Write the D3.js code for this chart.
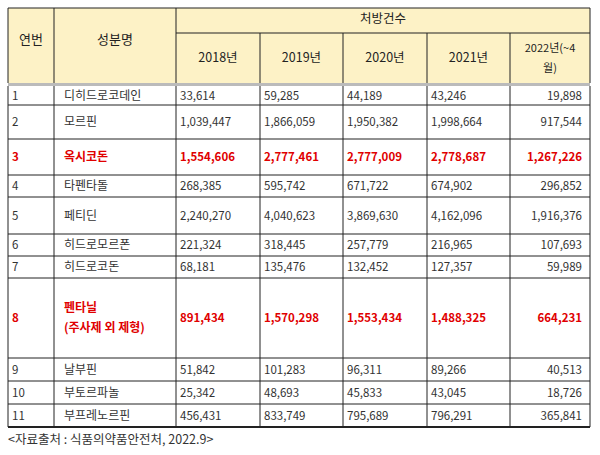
<!DOCTYPE html><html><head><meta charset="utf-8">
<script src="https://cdn.jsdelivr.net/npm/d3@7"></script>
<style>body{margin:0;background:#fff}</style></head><body>
<svg id="c" width="600" height="455"></svg>
<script>
const years=["2018년","2019년","2020년","2021년","2022년(~4|월)"];
const ids=["1","2","3","4","5","6","7","8","9","10","11"];
const names=["디히드로코데인","모르핀","옥시코돈","타펜타돌","페티딘","히드로모르폰","히드로코돈","펜타닐|(주사제 외 제형)","날부핀","부토르파놀","부프레노르핀"];
const v2018=[33614,1039447,1554606,268385,2240270,221324,68181,891434,51842,25342,456431];
const v2019=[59285,1866059,2777461,595742,4040623,318445,135476,1570298,101283,48693,833749];
const v2020=[44189,1950382,2777009,671722,3869630,257779,132452,1553434,96311,45833,795689];
const v2021=[43246,1998664,2778687,674902,4162096,216965,127357,1488325,89266,43045,796291];
const v2022=[19898,917544,1267226,296852,1916376,107693,59989,664231,40513,18726,365841];
const highlight=["3","8"];
const rowH=[19,34,36,22,37,22,22,80,23,23,23];
const colX=[8,54,176,260,343,427,510,590];
const svg=d3.select("#c"),F="'Noto Sans CJK KR',sans-serif",fmt=d3.format(",");
const y0=8,h1=33,h2=83,hb=86;
svg.append("rect").attr("x",colX[0]).attr("y",y0).attr("width",colX[7]-colX[0]).attr("height",h2-y0).attr("fill","#fdf2c6");
svg.append("rect").attr("x",colX[0]).attr("y",h2).attr("width",colX[7]-colX[0]).attr("height",hb-h2).attr("fill","#bbb");
const ln=(x1,ya,x2,yb,w=1)=>svg.append("line").attr("x1",x1).attr("y1",ya).attr("x2",x2).attr("y2",yb).attr("stroke","#222").attr("stroke-width",w);
const txt=(x,y,s,anchor,col,size=11.5,bold=false)=>{const lines=s.split("|");lines.forEach((l,i)=>svg.append("text").attr("x",x).attr("y",y+(i-(lines.length-1)/2)*20).attr("dy","0.35em").attr("text-anchor",anchor).attr("fill",col).attr("font-family",F).attr("font-size",size).attr("font-weight",bold?"bold":"normal").text(l));};
ln(colX[0],y0,colX[7],y0);ln(colX[2],h1,colX[7],h1);
colX.forEach((x,i)=>ln(x,(i>=3&&i<=6)?h1:y0,x,h2));
txt((colX[0]+colX[1])/2,(y0+h2)/2-6,"연번","middle","#222",13);
txt((colX[1]+colX[2])/2,(y0+h2)/2-6,"성분명","middle","#222",13);
txt((colX[2]+colX[7])/2,(y0+h1)/2-2,"처방건수","middle","#222",12.5);
years.forEach((y,i)=>txt((colX[i+2]+colX[i+3])/2,(h1+h2)/2,y,"middle","#222",i==4?11:12.5));
let y=hb;const cols=[v2018,v2019,v2020,v2021,v2022];
ids.forEach((id,r)=>{const h=rowH[r],cy=y+h/2,hl=highlight.includes(id),col=hl?"#e00000":"#333";
 txt(colX[0]+4,cy,id,"start",col,11.5,hl);
 txt(colX[1]+10,cy,names[r],"start",col,12,hl);
 cols.forEach((c,j)=>{ if(j<4) txt(colX[j+2]+4,cy,fmt(c[r]),"start",col,11.5,hl); else txt(colX[7]-8,cy,fmt(c[r]),"end",col,11.5,hl);});
 y+=h; ln(colX[0],y,colX[7],y, r==ids.length-1?2:1);
});
colX.forEach(x=>ln(x,hb,x,y));
txt(8,440,"<자료출처 : 식품의약품안전처, 2022.9>","start","#333",12.5);
</script></body></html>
